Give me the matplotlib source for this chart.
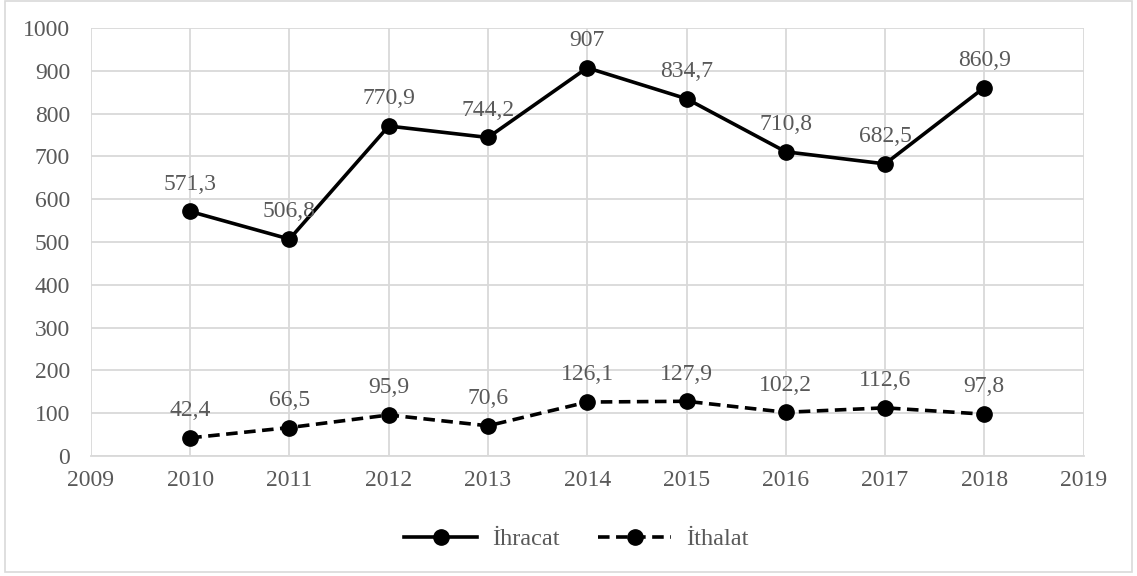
import matplotlib.pyplot as plt
from matplotlib.patches import Rectangle

years = [2010, 2011, 2012, 2013, 2014, 2015, 2016, 2017, 2018]
ihracat = [571.3, 506.8, 770.9, 744.2, 907, 834.7, 710.8, 682.5, 860.9]
ithalat = [42.4, 66.5, 95.9, 70.6, 126.1, 127.9, 102.2, 112.6, 97.8]
ihracat_lbl = ["571,3", "506,8", "770,9", "744,2", "907", "834,7", "710,8", "682,5", "860,9"]
ithalat_lbl = ["42,4", "66,5", "95,9", "70,6", "126,1", "127,9", "102,2", "112,6", "97,8"]

plt.rcParams['font.family'] = ['Liberation Serif', 'DejaVu Serif']
txt = "#595959"
grid = "#d9d9d9"

fig = plt.figure(figsize=(11.37, 5.76), dpi=100)
ax = fig.add_axes([0.080, 0.2083, 0.873, 0.7431])

ax.plot(years, ihracat, color="black", lw=2.6, marker="o", ms=11, label="İhracat")
ax.plot(years, ithalat, color="black", lw=2.6, ls=(0, (3.2, 1.8)), marker="o", ms=11,
        label="İthalat")

for x, y, s in zip(years, ihracat, ihracat_lbl):
    ax.annotate(s, (x, y), xytext=(0, 12), textcoords="offset points",
                ha="center", va="bottom", fontsize=17, color=txt)
for x, y, s in zip(years, ithalat, ithalat_lbl):
    ax.annotate(s, (x, y), xytext=(0, 12), textcoords="offset points",
                ha="center", va="bottom", fontsize=17, color=txt)

ax.set_xlim(2009, 2019)
ax.set_ylim(0, 1000)
ax.set_xticks(range(2009, 2020))
ax.set_yticks(range(0, 1001, 100))
ax.grid(True, color=grid, lw=1.3)
ax.set_axisbelow(True)
for sp in ["top", "right", "left"]:
    ax.spines[sp].set_visible(False)
ax.spines["bottom"].set_color(grid)
ax.spines["bottom"].set_linewidth(1.3)
ax.tick_params(length=0, labelsize=17, labelcolor=txt)
ax.tick_params(axis="y", pad=15)
ax.tick_params(axis="x", pad=10)

leg = fig.legend(loc="center", bbox_to_anchor=(0.507, 0.064), ncol=2, frameon=False,
                 fontsize=17.5, labelcolor=txt, handlelength=3.0, handletextpad=0.6,
                 columnspacing=1.6)

fig.patches.append(Rectangle((5 / 1137, 4 / 576), 1127 / 1137, 571 / 576,
                             transform=fig.transFigure, fill=False,
                             edgecolor=grid, lw=1.2))

fig.savefig("out.png", dpi=100)
